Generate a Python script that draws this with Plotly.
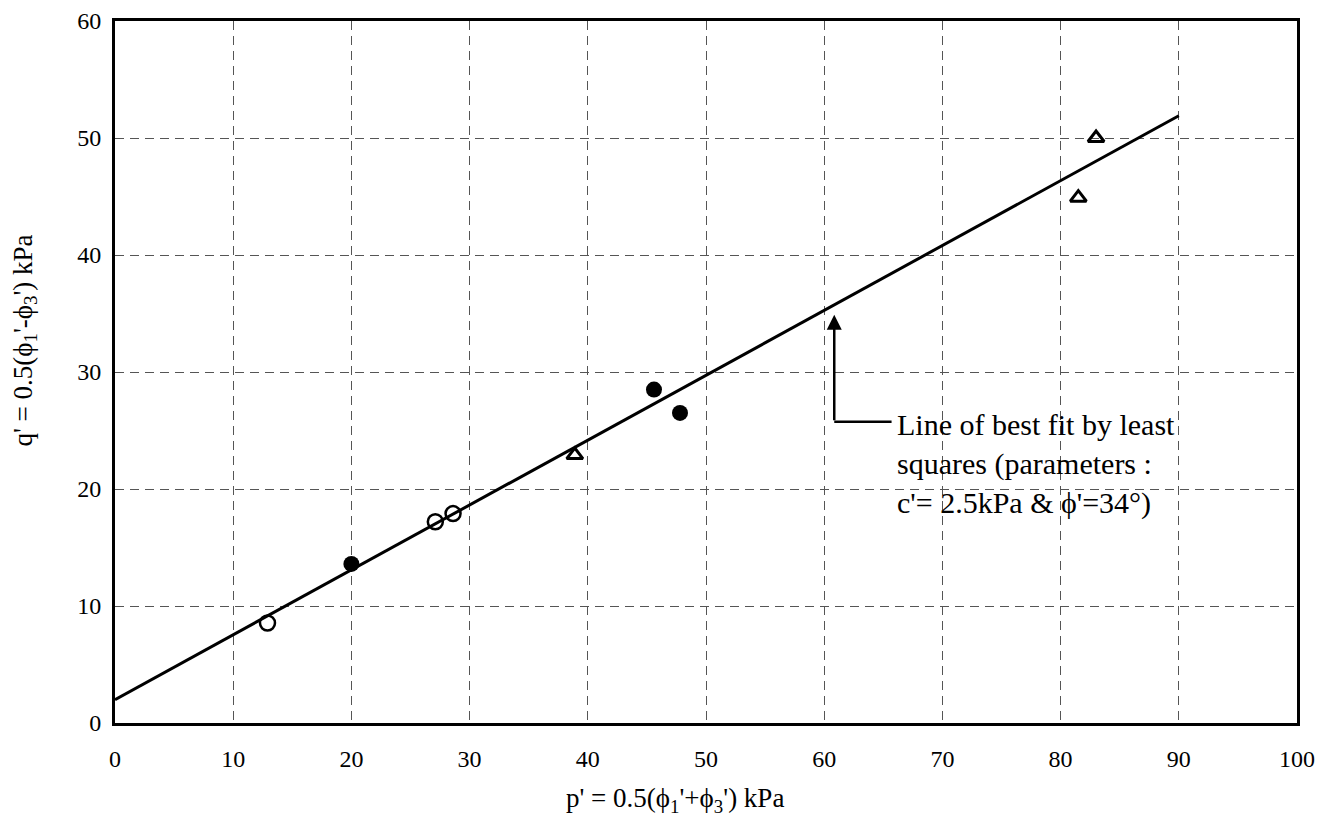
import plotly.graph_objects as go

# Data
open_circle_p = [12.9, 27.1, 28.6]
open_circle_q = [8.55, 17.2, 17.9]
filled_circle_p = [20.0, 45.6, 47.8]
filled_circle_q = [13.6, 28.5, 26.5]
triangle_p = [38.9, 81.5, 83.0]
triangle_q = [22.9, 44.9, 50.0]
fit_p = [0, 90]
fit_q = [2.0, 51.9]

x_ticks = [0, 10, 20, 30, 40, 50, 60, 70, 80, 90, 100]
y_ticks = [0, 10, 20, 30, 40, 50, 60]

x_title = "p' = 0.5(ϕ<sub>1</sub>'+ϕ<sub>3</sub>') kPa"
y_title = "q' = 0.5(ϕ<sub>1</sub>'-ϕ<sub>3</sub>') kPa"
note_text = "Line of best fit by least<br>squares (parameters :<br>c'= 2.5kPa &amp; ϕ'=34°)"

# annotation anchor points (data units)
arrow_x = 60.85
arrow_tip_y = 34.9
arrow_tail_y = 25.75
leader_end_x = 65.7

FONT = "Liberation Serif, Times New Roman, serif"

fig = go.Figure()
fig.add_trace(go.Scatter(x=fit_p, y=fit_q, mode="lines",
                         line=dict(color="black", width=3), showlegend=False))
fig.add_trace(go.Scatter(x=open_circle_p, y=open_circle_q, mode="markers",
                         marker=dict(symbol="circle-open", size=15, color="black",
                                     line=dict(width=2.5, color="black")),
                         showlegend=False))
fig.add_trace(go.Scatter(x=filled_circle_p, y=filled_circle_q, mode="markers",
                         marker=dict(symbol="circle", size=16, color="black"),
                         showlegend=False))
fig.add_trace(go.Scatter(x=triangle_p, y=triangle_q, mode="markers",
                         marker=dict(symbol="triangle-up-open", size=14, color="black",
                                     line=dict(width=3, color="black")),
                         showlegend=False))

fig.add_annotation(x=arrow_x, y=arrow_tip_y, ax=arrow_x, ay=arrow_tail_y,
                   xref="x", yref="y", axref="x", ayref="y",
                   text="", showarrow=True, arrowhead=2, arrowsize=1.2,
                   arrowwidth=2.5, arrowcolor="black")
fig.add_shape(type="line", x0=arrow_x, y0=arrow_tail_y, x1=leader_end_x, y1=arrow_tail_y,
              xref="x", yref="y", line=dict(color="black", width=2.5))
fig.add_annotation(x=leader_end_x + 0.3, y=arrow_tail_y, xref="x", yref="y",
                   text=note_text,
                   showarrow=False, xanchor="left", yanchor="top", align="left",
                   yshift=16,
                   font=dict(family=FONT, size=30, color="black"))

# axis titles as paper-positioned annotations (they sit off-centre in the reference)
fig.add_annotation(x=0.474, y=-0.11, xref="paper", yref="paper", text=x_title,
                   showarrow=False, xanchor="center", yanchor="middle",
                   font=dict(family=FONT, size=27, color="black"))
fig.add_annotation(x=-0.076, y=0.545, xref="paper", yref="paper", text=y_title,
                   showarrow=False, xanchor="center", yanchor="middle", textangle=-90,
                   font=dict(family=FONT, size=27, color="black"))

axis_common = dict(
    showgrid=True, gridcolor="#555555", gridwidth=1, griddash="9px,6px",
    showline=True, linecolor="black", linewidth=3, mirror=True,
    zeroline=False, ticks="", automargin=False,
    tickfont=dict(family=FONT, size=24, color="black"),
)

fig.update_xaxes(range=[0, 100], tickvals=x_ticks, ticklabelstandoff=12, **axis_common)
fig.update_yaxes(range=[0, 60], tickvals=y_ticks, ticklabelstandoff=6, **axis_common)

# page body has an 8px default margin, so the figure is 16px smaller than the window
fig.update_layout(width=1315, height=816,
                  margin=dict(l=107, r=26, t=13, b=101),
                  plot_bgcolor="white", paper_bgcolor="white",
                  font=dict(family=FONT, color="black"))

fig.write_html("out.html")
